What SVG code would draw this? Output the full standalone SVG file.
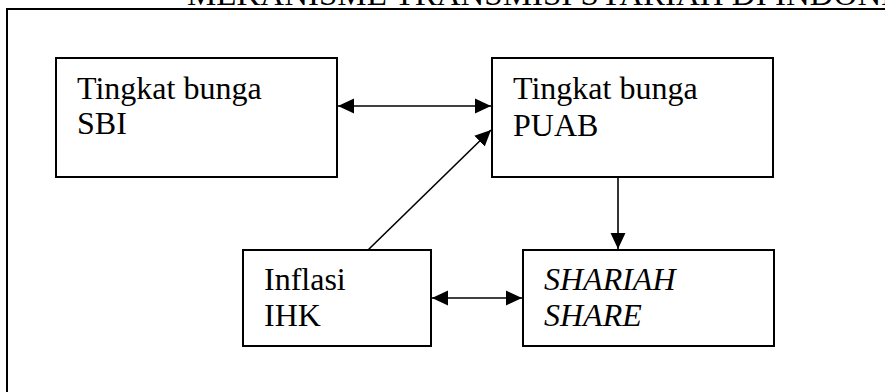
<svg xmlns="http://www.w3.org/2000/svg" width="885" height="392" viewBox="0 0 885 392">
<style>
.box{fill:#fff;stroke:#000;stroke-width:2}
.t{font-family:"Liberation Serif","Times New Roman",serif;font-size:32px;fill:#000}
.h{font-size:33px}
.i{font-style:italic}
.c{stroke:#000;stroke-width:1.6;fill:none}
</style>
<defs>
<marker id="ah" markerUnits="userSpaceOnUse" markerWidth="16" markerHeight="16" viewBox="0 0 15 14" refX="15" refY="7" orient="auto-start-reverse">
<path d="M0,0 L15,7 L0,14 Z" fill="#000"/>
</marker>
</defs>
<rect width="885" height="392" fill="#fff"/>
<text class="t h" x="187" y="5">MEKANISME TRANSMISI SYARIAH DI INDONESIA</text>
<path d="M7 392 V9 H885" fill="none" stroke="#000" stroke-width="2"/>
<g id="n-sbi">
<rect class="box" x="56" y="58" width="281" height="119"/>
<text class="t" x="77" y="99">Tingkat bunga</text>
<text class="t" x="77" y="134">SBI</text>
</g>
<g id="n-puab">
<rect class="box" x="492" y="58" width="281" height="119"/>
<text class="t" x="513" y="99">Tingkat bunga</text>
<text class="t" x="513" y="136">PUAB</text>
</g>
<g id="n-inflasi">
<rect class="box" x="243" y="250" width="188" height="96"/>
<text class="t" x="264" y="290">Inflasi</text>
<text class="t" x="264" y="326">IHK</text>
</g>
<g id="n-shariah">
<rect class="box" x="523" y="250" width="251" height="96"/>
<text class="t i" x="544" y="290">SHARIAH</text>
<text class="t i" x="544" y="326">SHARE</text>
</g>
<g id="connectors">
<line class="c" x1="338" y1="106" x2="491" y2="106" marker-start="url(#ah)" marker-end="url(#ah)"/>
<line class="c" x1="368" y1="250" x2="491" y2="130" marker-end="url(#ah)"/>
<line class="c" x1="618" y1="178" x2="618" y2="249" marker-end="url(#ah)"/>
<line class="c" x1="432" y1="298" x2="522" y2="298" marker-start="url(#ah)" marker-end="url(#ah)"/>
</g>
</svg>
